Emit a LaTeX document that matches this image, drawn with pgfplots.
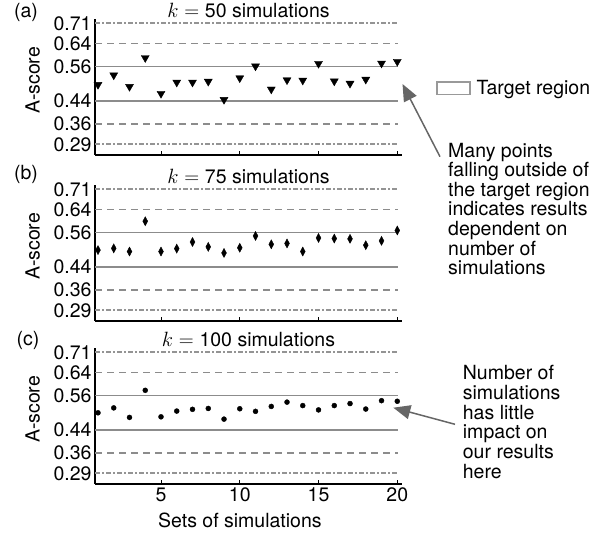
\documentclass[border=0pt]{standalone}
\usepackage{fontspec}
\setmainfont{TeX Gyre Heros}
\usepackage{pgfplots}
\usepackage{pgfplotstable}
\pgfplotsset{compat=1.18}
\usetikzlibrary{arrows.meta}

\pgfplotstableread{
x a b c
1 0.497 0.499 0.500
2 0.530 0.505 0.517
3 0.490 0.494 0.484
4 0.590 0.599 0.578
5 0.466 0.494 0.486
6 0.505 0.504 0.506
7 0.505 0.527 0.512
8 0.508 0.510 0.515
9 0.445 0.489 0.478
10 0.520 0.507 0.514
11 0.561 0.548 0.505
12 0.481 0.519 0.522
13 0.513 0.522 0.537
14 0.512 0.494 0.525
15 0.570 0.541 0.510
16 0.509 0.539 0.525
17 0.501 0.538 0.532
18 0.515 0.516 0.513
19 0.571 0.531 0.542
20 0.577 0.567 0.540
}\data

\newcommand{\bigfont}{\fontsize{19.5bp}{22bp}\selectfont}
\colorlet{refgray}{black!45}

\pgfplotsset{
  panel/.style={
    scale only axis, width=307bp, height=135.5bp,
    xmin=0.81, xmax=20.3, ymin=0.253, ymax=0.723,
    axis x line*=bottom, axis y line*=left,
    axis line style={line width=1.6bp, black, -},
    xtick={5,10,15,20}, xticklabels={},
    ytick={0.29,0.36,0.44,0.56,0.64,0.71},
    yticklabels={0.29,0.36,0.44,0.56,0.64,0.71},
    tick align=inside, major tick length=3.5bp,
    xtick style={line width=1bp, black},
    ytick style={draw=none},
    /pgf/number format/assume math mode=true,
    font=\bigfont,
    ticklabel style={font=\bigfont},
    ylabel={A-score},
    ylabel style={font=\bigfont, at={(axis description cs:-0.203,0.55)}, anchor=center},
    clip=false,
  },
  hsolid/.style={refgray, line width=1.4bp, forget plot},
  hdash/.style={refgray, line width=1.5bp, dash pattern=on 7.3bp off 4.7bp, forget plot},
  hdashdot/.style={black!42, line width=1.7bp, dash pattern=on 5bp off 2bp on 2bp off 2bp, forget plot},
}

\newcommand{\targetlines}{%
  \addplot[hdashdot] coordinates {(0.81,0.71) (20.07,0.71)};
  \addplot[hdash] coordinates {(0.81,0.64) (20.07,0.64)};
  \addplot[hsolid] coordinates {(0.81,0.56) (20.07,0.56)};
  \addplot[hsolid] coordinates {(0.81,0.44) (20.07,0.44)};
  \addplot[hdash] coordinates {(0.81,0.36) (20.07,0.36)};
  \addplot[hdashdot] coordinates {(0.81,0.29) (20.07,0.29)};
}
\newcommand{\paneltitle}[1]{\node[anchor=base, font=\bigfont, inner sep=0pt] at (axis description cs:0.5,1) [yshift=1.5bp] {#1};}

\begin{document}
\begin{tikzpicture}[x=1bp, y=1bp, font=\bigfont]
\useasboundingbox (0,0) rectangle (595,535);

% (a)
\begin{axis}[panel, at={(95bp,380bp)}, anchor=south west,
  legend style={draw=none, fill=none, at={(axis description cs:1.111,0.494)}, anchor=west,
    inner sep=0pt, font=\bigfont, legend cell align=left},
]
\addlegendimage{legend image code/.code={\draw[draw=black!40, line width=1.3bp, fill=white] (0bp,-6.2bp) rectangle (33bp,6.2bp);}}
\addlegendentry{\hspace{4bp}Target region}
\targetlines
\addplot[only marks, mark=triangle*, mark size=4.6bp, mark options={rotate=180, fill=black, draw=black}, forget plot] table[x=x, y=a] {\data};
\paneltitle{$k={}$50 simulations}
\end{axis}

% (b)
\begin{axis}[panel, at={(95bp,214bp)}, anchor=south west]
\targetlines
\addplot[only marks, mark=diamond*, mark size=4.5bp, mark options={xscale=0.72, fill=black, draw=black}] table[x=x, y=b] {\data};
\paneltitle{$k={}$75 simulations}
\end{axis}

% (c)
\begin{axis}[panel, at={(95bp,51bp)}, anchor=south west,
  xticklabels={5,10,15,20},
  xlabel={Sets of simulations},
  xlabel style={font=\bigfont, at={(axis description cs:0.472,0)}, anchor=base, yshift=-43.3bp},
]
\targetlines
\addplot[only marks, mark=*, mark size=2.5bp, mark options={fill=black, draw=black}] table[x=x, y=c] {\data};
\paneltitle{$k={}$100 simulations}
\end{axis}

% panel letters
\node at (26,522.5) {(a)};
\node at (26,360.5) {(b)};
\node at (28,194.2) {(c)};

% annotations
\node[anchor=north west, inner sep=0pt, align=left, font=\fontsize{19.5bp}{19.6bp}\selectfont] at (448,392.3)
  {Many points\\falling outside of\\the target region\\indicates results\\dependent on\\number of\\simulations};
\draw[black!60, line width=1.5bp, -{Triangle[length=17bp, width=14bp]}] (440,378.3) -- (402.5,451);

\node[anchor=north west, inner sep=0pt, align=left, font=\fontsize{19.5bp}{19.8bp}\selectfont] at (462.7,170)
  {Number of\\simulations\\has little\\impact on\\our results\\here};
\draw[black!60, line width=1.5bp, -{Triangle[length=17bp, width=14bp]}] (455,110.7) -- (393.3,127.3);
\end{tikzpicture}
\end{document}
